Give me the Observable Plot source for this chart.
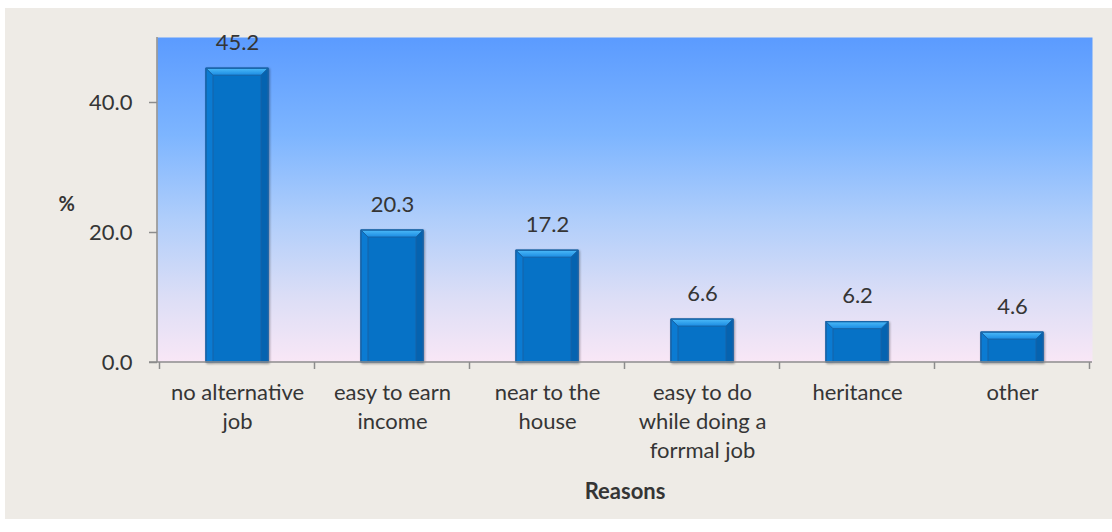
<!DOCTYPE html>
<html><head><meta charset="utf-8">
<script src="https://cdn.jsdelivr.net/npm/d3@7"></script>
<script src="https://cdn.jsdelivr.net/npm/@observablehq/plot@0.6"></script>
<style>
html,body{margin:0;padding:0;background:#fff;width:1112px;height:532px;overflow:hidden}
#chart{position:absolute;left:5px;top:8px;width:1107px;height:511px;background:#eeebe6}
</style></head><body><div id="chart"></div>
<script>
const categories = ["no alternative\njob", "easy to earn\nincome", "near to the\nhouse", "easy to do\nwhile doing a\nforrmal job", "heritance", "other"];
const percents = [45.2, 20.3, 17.2, 6.6, 6.2, 4.6];
const yTicks = [0, 20, 40];
const yLabel = "%";
const xLabel = "Reasons";

const data = categories.map((c, i) => ({reason: c, value: percents[i]}));
const axisColor = "#8c8c8c";
const textColor = "#353535";

function decorations(index, scales, values, dims) {
  const g = d3.create("svg:g");
  const defs = g.append("defs");
  const bg = defs.append("linearGradient").attr("id", "bgGrad").attr("x1", 0).attr("y1", 0).attr("x2", 0).attr("y2", 1);
  [[0, "#5b9bff"], [0.3, "#7db5ff"], [0.55, "#aecdfb"], [0.8, "#dcdef6"], [1, "#f9e7f6"]]
    .forEach(([o, c]) => bg.append("stop").attr("offset", o).attr("stop-color", c));
  const tg = defs.append("linearGradient").attr("id", "capGrad").attr("x1", 0).attr("y1", 0).attr("x2", 0).attr("y2", 1);
  [[0, "#4cbaf8"], [1, "#1a8be2"]].forEach(([o, c]) => tg.append("stop").attr("offset", o).attr("stop-color", c));
  return g.node();
}

function axes(index, scales, values, dims) {
  const {x, y} = scales;
  const g = d3.create("svg:g").attr("stroke", axisColor).attr("stroke-width", 1.5).attr("fill", "none");
  const left = dims.marginLeft, right = dims.width - dims.marginRight;
  const top = dims.marginTop;
  const y0 = y(0);
  g.append("line").attr("x1", left).attr("x2", left).attr("y1", top).attr("y2", y0);
  g.append("line").attr("x1", left - 8).attr("x2", right).attr("y1", y0).attr("y2", y0);
  const bw = x.bandwidth ? x.bandwidth() : 0;
  const step = x.step ? x.step() : (right - left) / categories.length;
  const bounds = categories.map(c => x(c) + bw / 2 - step / 2);
  bounds.push(x(categories[categories.length - 1]) + bw / 2 + step / 2);
  bounds.forEach(b => g.append("line").attr("x1", b).attr("x2", b).attr("y1", y0).attr("y2", y0 + 7));
  return g.node();
}

const svg = Plot.plot({
  width: 1107,
  height: 511,
  marginLeft: 152,
  marginRight: 20,
  marginTop: 29,
  marginBottom: 157,
  style: {fontFamily: "Lato, 'Open Sans', sans-serif", fontSize: "22px", color: textColor, background: "transparent", overflow: "visible"},
  x: {domain: categories, paddingInner: 0.6, paddingOuter: 0.3, label: null},
  y: {domain: [0, 50], label: null},
  marks: [
    decorations,
    Plot.frame({fill: "url(#bgGrad)", stroke: "none"}),
    Plot.barY(data, {x: "reason", y: "value", fill: "#0672c6", stroke: "#1763a6", strokeWidth: 1}),
    axes,
    Plot.axisY({ticks: yTicks, tickFormat: d3.format(".1f"), tickSize: 8, tickPadding: 17, fontSize: 22, stroke: axisColor, strokeWidth: 1.5, fill: textColor, label: null}),
    Plot.axisX({tickSize: 0, tickPadding: 17, fontSize: 22, lineHeight: 1.32, fill: textColor, label: null}),
    Plot.text(data, {x: "reason", y: "value", text: d => d.value.toFixed(1), dy: -26, fontSize: 22, fill: textColor}),
    Plot.text([yLabel], {frameAnchor: "left", dx: -99, dy: 5, fontSize: 20, fontWeight: "bold", fill: textColor}),
    Plot.text([xLabel], {frameAnchor: "bottom", lineAnchor: "middle", dy: 129, fontSize: 22, fontWeight: "bold", fill: textColor})
  ]
});

// bevel decoration drawn onto the library's own bar rectangles
d3.select(svg).selectAll('g[aria-label="bar"] rect').each(function () {
  const r = d3.select(this);
  const x0 = +r.attr("x"), yt = +r.attr("y"), w = +r.attr("width"), h = +r.attr("height");
  const x1 = x0 + w, yb = yt + h, b = Math.min(7, h / 2);
  const p = d3.select(this.parentNode);
  p.append("polygon").attr("points", `${x0},${yt} ${x0 + b},${yt + b} ${x0 + b},${yb} ${x0},${yb}`).attr("fill", "#0b7bd2");
  p.append("polygon").attr("points", `${x1},${yt} ${x1 - b},${yt + b} ${x1 - b},${yb} ${x1},${yb}`).attr("fill", "#0563b0");
  p.append("polygon").attr("points", `${x0},${yt} ${x1},${yt} ${x1 - b},${yt + b} ${x0 + b},${yt + b}`).attr("fill", "url(#capGrad)");
  p.append("rect").attr("x", x0).attr("y", yt).attr("width", w).attr("height", h).attr("fill", "none").attr("stroke", "#1763a6").attr("stroke-width", 1);
});
d3.select(svg).select('g[aria-label="bar"]').style("filter", "drop-shadow(1px 1px 1px rgba(0,0,0,0.35))");

document.getElementById("chart").appendChild(svg);
</script>
</body></html>
